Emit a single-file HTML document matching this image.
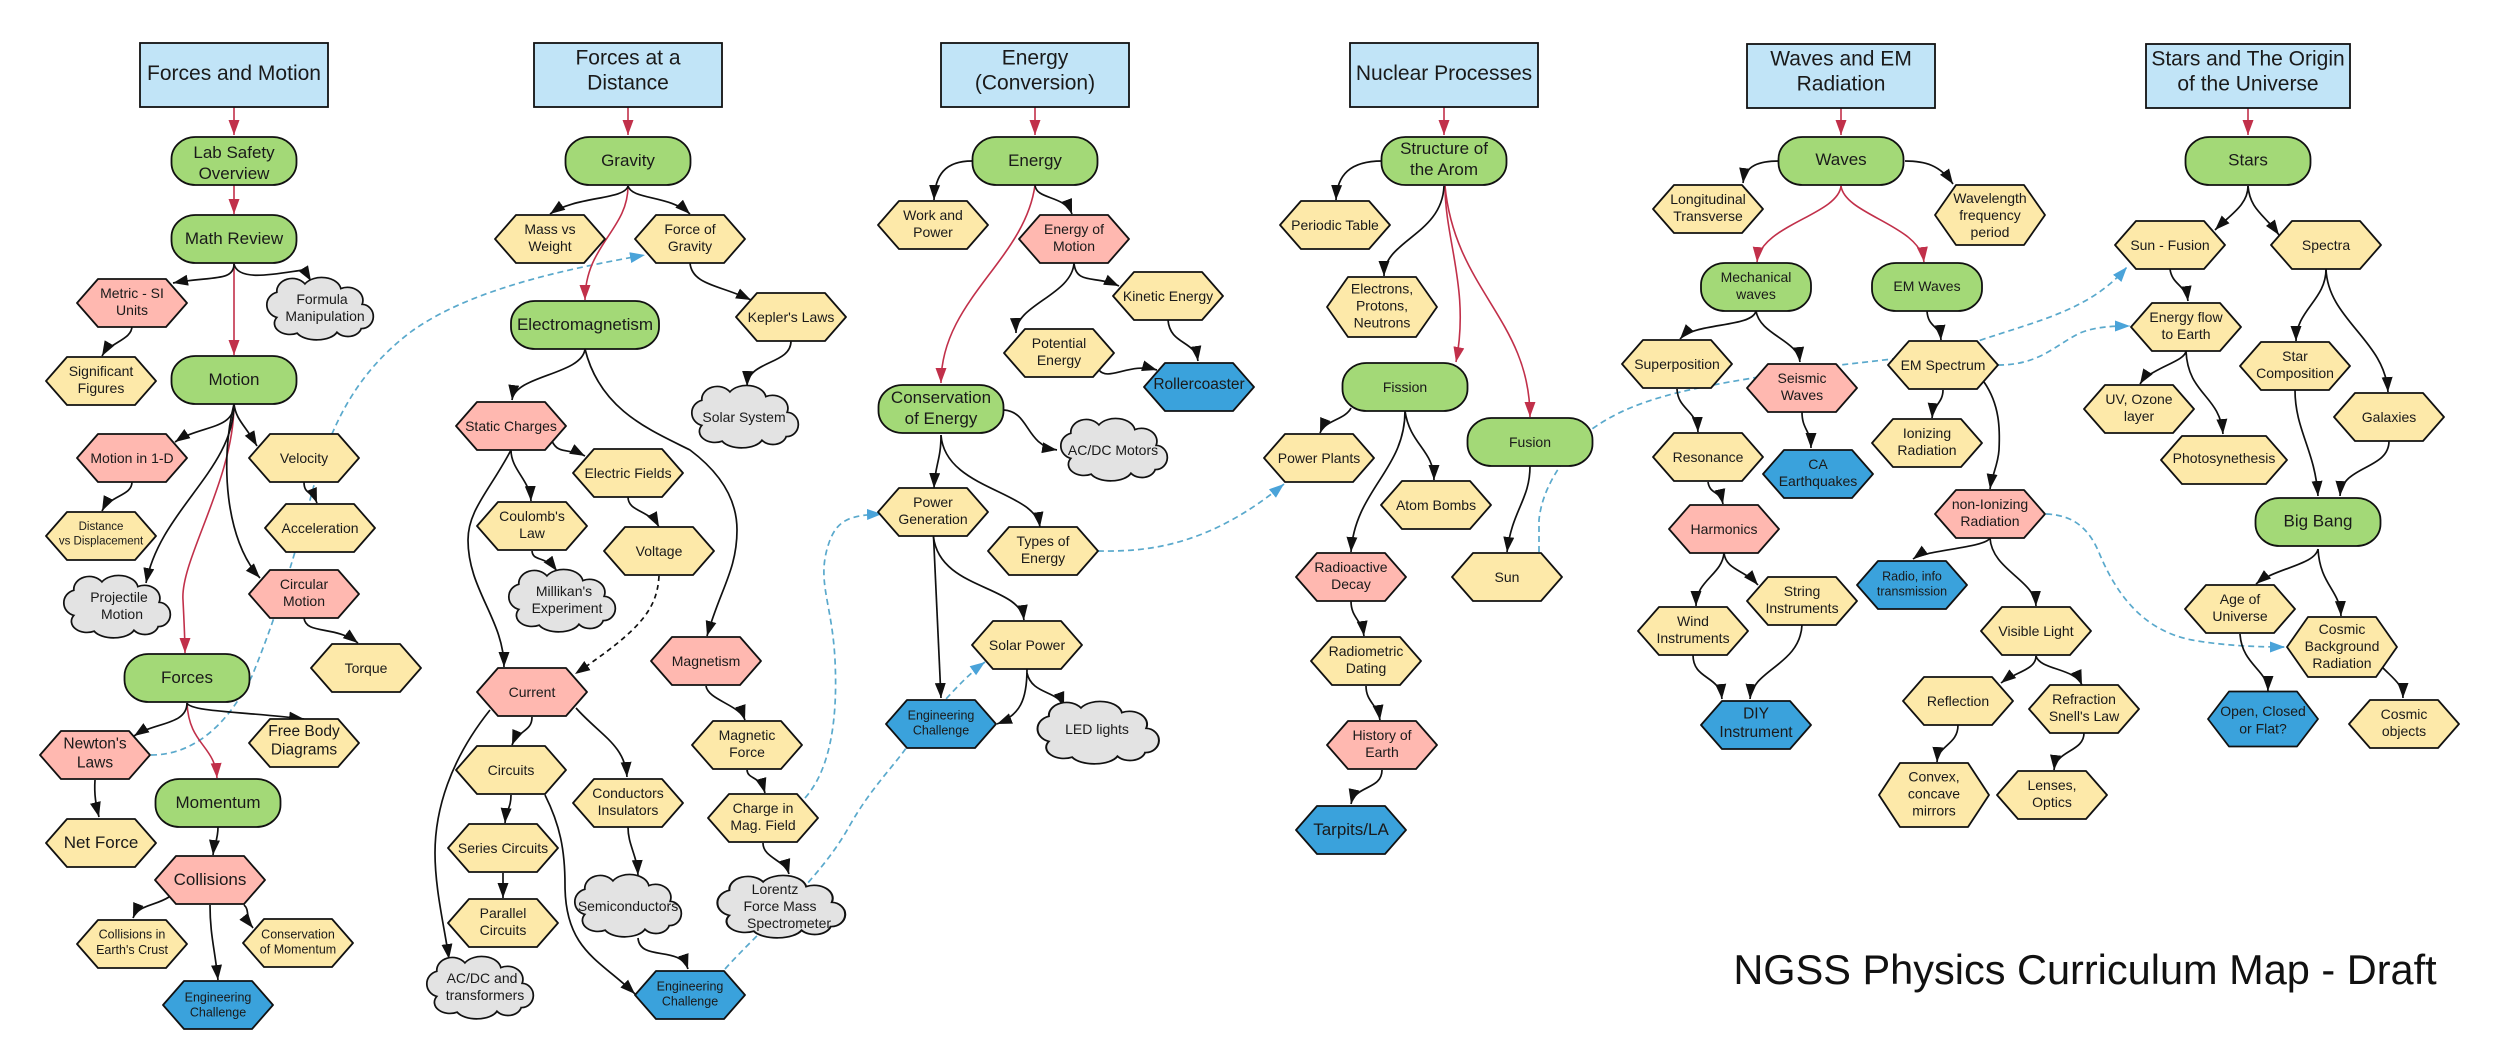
<!DOCTYPE html>
<html><head><meta charset="utf-8"><style>
html,body{margin:0;padding:0;background:#fff}
svg{display:block}
text{font:14px "Liberation Sans",sans-serif;text-anchor:middle;fill:#1a1a1a}
.L text{font-size:17px}.M text{font-size:15.5px}.S text{font-size:12.5px}.X text{font-size:11.5px}.H text{font-size:21px}
.y{fill:#fde9a9}.r{fill:#ffb8b0}.g{fill:#a3d977}.b{fill:#3aa2dc}.c{fill:#e3e3e3}.d{fill:#c1e4f7}
path.k,#k path{fill:none;stroke:#111;stroke-width:1.7;marker-end:url(#ak)}
#r path{fill:none;stroke:#c1304a;stroke-width:1.6;marker-end:url(#ar)}
#u path{fill:none;stroke:#5aa9cc;stroke-width:1.7;stroke-dasharray:6 4;marker-end:url(#au)}
</style></head><body>
<svg width="2500" height="1063" viewBox="0 0 2500 1063" xmlns="http://www.w3.org/2000/svg">
<defs>
<marker id="ak" markerUnits="userSpaceOnUse" markerWidth="17" markerHeight="13" refX="15" refY="6.5" orient="auto"><path d="M0 1L15 6.5L0 12Z" fill="#111"/></marker>
<marker id="ar" markerUnits="userSpaceOnUse" markerWidth="17" markerHeight="13" refX="15" refY="6.5" orient="auto"><path d="M0 1L15 6.5L0 12Z" fill="#c1304a"/></marker>
<marker id="au" markerUnits="userSpaceOnUse" markerWidth="17" markerHeight="13" refX="15" refY="6.5" orient="auto"><path d="M0 1L15 6.5L0 12Z" fill="#4aa3d9"/></marker>
<path id="h" d="M-55 0L-34-24H34L55 0L34 24H-34Z" stroke="#111" stroke-width="1.8" stroke-linejoin="round"/>
<path id="h6" d="M-55 0L-34-30H34L55 0L34 30H-34Z" stroke="#111" stroke-width="1.8" stroke-linejoin="round"/>
<path id="h5" d="M-55 0L-34-27.5H34L55 0L34 27.5H-34Z" stroke="#111" stroke-width="1.8" stroke-linejoin="round"/>
<path id="h7" d="M-55 0L-34-32H34L55 0L34 32H-34Z" stroke="#111" stroke-width="1.8" stroke-linejoin="round"/>
<path id="hw" d="M-63 0L-42-24H42L63 0L42 24H-42Z" stroke="#111" stroke-width="1.8" stroke-linejoin="round"/>
<rect id="p" x="-62.5" y="-24" width="125" height="48" rx="24" ry="22" stroke="#111" stroke-width="1.8"/>
<rect id="pl" x="-74" y="-24" width="148" height="48" rx="24" ry="22" stroke="#111" stroke-width="1.8"/>
<rect id="pm" x="-55" y="-24" width="110" height="48" rx="24" ry="22" stroke="#111" stroke-width="1.8"/>
<rect id="q" x="-94" y="-32" width="188" height="64" stroke="#111" stroke-width="1.8"/>
<rect id="qw" x="-102" y="-32" width="204" height="64" stroke="#111" stroke-width="1.8"/>
<path id="cl" transform="scale(.97,.93) translate(-5.5,0)" d="M-38-18A16 14 0 0 1-9-27A20 14 0 0 1 28-22A16 14 0 0 1 50-5A12 13 0 0 1 49 21A14 11 0 0 1 24 25A22 12 0 0 1-17 26A16 12 0 0 1-38 9A14 14 0 0 1-38-18Z" stroke="#111" stroke-width="1.8"/>
</defs>

<g id="u">
<path d="M151 755C190 755 225 730 252 676C275 620 290 570 309 504C330 420 360 370 412 331C470 290 560 270 645 255"/>
<path d="M725 969C760 930 820 880 850 825C870 790 890 770 904 751C925 722 960 680 985 662"/>
<path d="M805 798C830 770 838 720 835 660C832 600 815 580 830 540C838 520 850 515 882 514"/>
<path d="M1098 551C1150 552 1210 545 1284 484"/>
<path d="M1539 552L1539 520C1542 490 1560 460 1592 429C1640 395 1700 385 1840 365C1900 358 1940 355 1978 341C2040 320 2090 310 2127 267"/>
<path d="M1998 365C2040 365 2055 345 2080 333C2095 327 2110 326 2130 326"/>
<path d="M2046 514C2075 515 2090 530 2100 555C2115 590 2140 630 2192 640C2225 646 2260 647 2285 647"/>
</g>

<path class="k" d="M659 576C657 610 640 630 575 674" style="stroke-dasharray:5 4"/>

<g id="r">
<path d="M234 107V135"/><path d="M234 185V214"/><path d="M234 263V355"/>
<path d="M234 404C234 480 180 560 183 600C184 620 185 640 185 653"/>
<path d="M187 703C189 745 215 745 217 778"/>
<path d="M628 107V135"/><path d="M628 186C628 230 585 245 585 300"/>
<path d="M1035 107V135"/><path d="M1035 185C1025 260 941 300 941 383"/>
<path d="M1444 107V135"/><path d="M1445 186C1445 240 1470 290 1456 362"/><path d="M1445 186C1455 290 1530 320 1530 417"/>
<path d="M1841 108V135"/><path d="M1841 186C1838 215 1760 225 1757 262"/><path d="M1841 186C1845 215 1920 225 1924 262"/>
<path d="M2248 108V135"/>
</g>

<g id="k">
<path d="M234 264C234 282 210 276 173 283"/>
<path d="M234 264C238 282 275 274 303 270C305 272 308 276 311 281"/>
<path d="M132 326C132 340 110 342 102 356"/>
<path d="M234 404C234 430 200 425 175 442"/>
<path d="M234 404C236 420 245 425 257 446"/>
<path d="M132 482C132 496 110 495 102 511"/>
<path d="M234 404C234 470 160 510 146 583"/>
<path d="M234 404C220 460 225 540 260 578"/>
<path d="M304 482C304 495 312 490 317 503"/>
<path d="M304 618C306 635 335 625 358 643"/>
<path d="M187 703C187 725 155 722 134 736"/>
<path d="M187 703C190 712 250 712 304 719"/>
<path d="M95 780C94 795 96 805 99 817"/>
<path d="M218 827C218 840 214 845 213 855"/>
<path d="M169 897C155 906 138 905 133 918"/>
<path d="M244 905C250 910 245 918 253 928"/>
<path d="M210 905C210 935 215 950 218 980"/>

<path d="M628 186C625 200 575 196 550 214"/>
<path d="M628 186C632 200 670 195 690 214"/>
<path d="M690 263C692 285 720 285 751 300"/>
<path d="M791 341C791 365 748 360 747 386"/>
<path d="M585 349C582 375 515 375 512 400"/>
<path d="M585 349C600 410 650 430 690 450C730 480 737 510 737 530C737 570 720 590 707 636"/>
<path d="M552 441C558 455 570 448 585 456"/>
<path d="M511 450C511 470 530 480 531 501"/>
<path d="M511 450C490 490 468 510 468 540C468 590 504 620 504 667"/>
<path d="M628 497C628 512 650 510 659 527"/>
<path d="M532 551C533 562 545 555 557 571"/>
<path d="M706 686C708 700 740 705 745 720"/>
<path d="M747 770C748 780 760 775 765 793"/>
<path d="M763 843C763 858 785 860 789 874"/>
<path d="M628 827C628 845 637 855 638 875"/>
<path d="M638 938C640 962 680 945 688 969"/>
<path d="M532 717C532 732 518 730 512 745"/>
<path d="M576 708C600 735 625 745 627 777"/>
<path d="M490 710C450 760 435 810 435 853C435 890 445 930 449 959"/>
<path d="M511 795C511 808 506 810 505 823"/>
<path d="M503 873V898"/>
<path d="M545 795C560 825 565 850 565 885C565 950 600 960 635 994"/>

<path d="M972 161C945 161 935 175 934 200"/>
<path d="M1035 185C1036 200 1065 195 1072 214"/>
<path d="M1074 263C1076 285 1095 275 1119 286"/>
<path d="M1074 263C1072 295 1015 305 1016 333"/>
<path d="M1168 320C1170 345 1195 340 1198 361"/>
<path d="M1099 370C1108 382 1130 362 1157 370"/>
<path d="M1004 410C1030 412 1025 445 1057 450"/>
<path d="M941 435C941 460 935 465 934 488"/>
<path d="M941 435C945 490 1035 490 1040 527"/>
<path d="M933.5 536L941 698"/>
<path d="M933.5 537C940 590 1020 585 1024 620"/>
<path d="M1027 669C1027 700 1020 715 997 724"/>
<path d="M1027 673C1032 695 1058 690 1064 707"/>

<path d="M1382 161C1350 161 1337 175 1336 200"/>
<path d="M1444 186C1442 235 1384 240 1384 276"/>
<path d="M1351 408C1345 420 1325 420 1320 433"/>
<path d="M1405 411C1410 445 1434 450 1434 480"/>
<path d="M1405 411C1405 470 1355 490 1351 552"/>
<path d="M1530 466C1530 500 1512 510 1507 552"/>
<path d="M1351 601C1351 618 1362 620 1364 636"/>
<path d="M1366 686C1366 702 1378 705 1380 720"/>
<path d="M1382 770C1382 790 1355 785 1351 804"/>

<path d="M1779 161C1760 161 1745 165 1743 183"/>
<path d="M1905 161C1925 161 1940 165 1953 184"/>
<path d="M1756 311C1752 328 1695 322 1680 339"/>
<path d="M1756 311C1760 335 1798 340 1800 362"/>
<path d="M1927 311C1928 328 1940 325 1941 340"/>
<path d="M1677 389C1678 410 1697 410 1698 432"/>
<path d="M1708 482C1710 495 1720 490 1723 504"/>
<path d="M1802 412C1802 430 1811 430 1811 448"/>
<path d="M1943 390C1943 403 1933 405 1932 418"/>
<path d="M1984 382C2000 405 2000 430 1999 450C1998 465 1992 475 1990 489"/>
<path d="M1724 553C1722 575 1696 580 1696 606"/>
<path d="M1724 553C1726 570 1745 570 1758 585"/>
<path d="M1693 655C1693 680 1720 675 1722 699"/>
<path d="M1802 625C1800 665 1752 670 1750 699"/>
<path d="M1990 538C1985 548 1925 550 1913 559"/>
<path d="M1990 538C1992 570 2035 580 2036 606"/>
<path d="M2036 656C2036 670 2015 672 2001 683"/>
<path d="M2036 656C2040 670 2075 668 2082 685"/>
<path d="M1958 725C1958 745 1938 745 1937 762"/>
<path d="M2084 733C2084 752 2056 750 2054 770"/>

<path d="M2248 186C2248 205 2230 215 2215 230"/>
<path d="M2248 186C2250 210 2265 215 2279 235"/>
<path d="M2170 269C2172 285 2186 285 2188 301"/>
<path d="M2326 269C2326 300 2296 310 2296 341"/>
<path d="M2326 269C2328 320 2385 340 2388 392"/>
<path d="M2186 351C2185 362 2150 368 2140 384"/>
<path d="M2186 351C2188 395 2220 395 2223 434"/>
<path d="M2295 390C2295 430 2315 450 2318 496"/>
<path d="M2389 441C2389 470 2342 465 2340 496"/>
<path d="M2318 549C2315 565 2275 568 2256 584"/>
<path d="M2318 549C2320 585 2340 590 2341 616"/>
<path d="M2240 634C2242 665 2268 670 2268 691"/>
<path d="M2383 668C2395 680 2403 685 2403 698"/>
</g>

<!-- headers -->
<g class="H" transform="translate(234,75)"><use href="#q" class="d"/><text y="5">Forces and Motion</text></g>
<g class="H" transform="translate(628,75)"><use href="#q" class="d"/><text y="-10.5">Forces at a</text><text y="14.5">Distance</text></g>
<g class="H" transform="translate(1035,75)"><use href="#q" class="d"/><text y="-10.5">Energy</text><text y="14.5">(Conversion)</text></g>
<g class="H" transform="translate(1444,75)"><use href="#q" class="d"/><text y="5">Nuclear Processes</text></g>
<g class="H" transform="translate(1841,76)"><use href="#q" class="d"/><text y="-10.5">Waves and EM</text><text y="14.5">Radiation</text></g>
<g class="H" transform="translate(2248,76)"><use href="#qw" class="d"/><text y="-10.5">Stars and The Origin</text><text y="14.5">of the Universe</text></g>

<!-- column 1 -->
<g class="L" transform="translate(234,161)"><use href="#p" class="g"/><text y="-3">Lab Safety</text><text y="18">Overview</text></g>
<g class="L" transform="translate(234,239)"><use href="#p" class="g"/><text y="5">Math Review</text></g>
<g transform="translate(132,303)"><use href="#h" class="r"/><text y="-5">Metric - SI</text><text y="12">Units</text></g>
<g transform="translate(319,309)"><use href="#cl" class="c"/><text x="3" y="-5">Formula</text><text x="6" y="12">Manipulation</text></g>
<g transform="translate(101,381)"><use href="#h" class="y"/><text y="-5">Significant</text><text y="12">Figures</text></g>
<g class="L" transform="translate(234,380)"><use href="#p" class="g"/><text y="5">Motion</text></g>
<g transform="translate(132,458)"><use href="#h" class="r"/><text y="5">Motion in 1-D</text></g>
<g transform="translate(304,458)"><use href="#h" class="y"/><text y="5">Velocity</text></g>
<g class="X" transform="translate(101,536)"><use href="#h" class="y"/><text y="-6">Distance</text><text y="8.5">vs Displacement</text></g>
<g transform="translate(320,528)"><use href="#h" class="y"/><text y="5">Acceleration</text></g>
<g transform="translate(116,607)"><use href="#cl" class="c"/><text x="3" y="-5">Projectile</text><text x="6" y="12">Motion</text></g>
<g transform="translate(304,594)"><use href="#h" class="r"/><text y="-5">Circular</text><text y="12">Motion</text></g>
<g class="L" transform="translate(187,678)"><use href="#p" class="g"/><text y="5">Forces</text></g>
<g transform="translate(366,668)"><use href="#h" class="y"/><text y="5">Torque</text></g>
<g class="M" transform="translate(95,755)"><use href="#h" class="r"/><text y="-6.5">Newton's</text><text y="12.5">Laws</text></g>
<g class="M" transform="translate(304,743)"><use href="#h" class="y"/><text y="-7">Free Body</text><text y="11.5">Diagrams</text></g>
<g class="L" transform="translate(218,803)"><use href="#p" class="g"/><text y="5">Momentum</text></g>
<g class="L" transform="translate(101,843)"><use href="#h" class="y"/><text y="5">Net Force</text></g>
<g class="L" transform="translate(210,880)"><use href="#h" class="r"/><text y="5">Collisions</text></g>
<g class="S" transform="translate(132,944)"><use href="#h" class="y"/><text y="-5.5">Collisions in</text><text y="10">Earth's Crust</text></g>
<g class="S" transform="translate(298,943)"><use href="#h" class="y"/><text y="-4.5">Conservation</text><text y="10.5">of Momentum</text></g>
<g class="S" transform="translate(218,1005)"><use href="#h" class="b"/><text y="-3.5">Engineering</text><text y="11.5">Challenge</text></g>

<!-- column 2 -->
<g class="L" transform="translate(628,161)"><use href="#p" class="g"/><text y="5">Gravity</text></g>
<g transform="translate(550,239)"><use href="#h" class="y"/><text y="-5">Mass vs</text><text y="12">Weight</text></g>
<g transform="translate(690,239)"><use href="#h" class="y"/><text y="-5">Force of</text><text y="12">Gravity</text></g>
<g class="L" transform="translate(585,325)"><use href="#pl" class="g"/><text y="5">Electromagnetism</text></g>
<g transform="translate(791,317)"><use href="#h" class="y"/><text y="5">Kepler's Laws</text></g>
<g transform="translate(744,417)"><use href="#cl" class="c"/><text y="5">Solar System</text></g>
<g transform="translate(511,426)"><use href="#h" class="r"/><text y="5">Static Charges</text></g>
<g transform="translate(628,473)"><use href="#h" class="y"/><text y="5">Electric Fields</text></g>
<g transform="translate(532,526)"><use href="#h" class="y"/><text y="-5">Coulomb's</text><text y="12">Law</text></g>
<g transform="translate(659,551)"><use href="#h" class="y"/><text y="5">Voltage</text></g>
<g transform="translate(561,601)"><use href="#cl" class="c"/><text x="3" y="-5">Millikan's</text><text x="6" y="12">Experiment</text></g>
<g transform="translate(532,692)"><use href="#h" class="r"/><text y="5">Current</text></g>
<g transform="translate(706,661)"><use href="#h" class="r"/><text y="5">Magnetism</text></g>
<g transform="translate(747,745)"><use href="#h" class="y"/><text y="-5">Magnetic</text><text y="12">Force</text></g>
<g transform="translate(511,770)"><use href="#h" class="y"/><text y="5">Circuits</text></g>
<g transform="translate(628,803)"><use href="#h" class="y"/><text y="-5">Conductors</text><text y="12">Insulators</text></g>
<g transform="translate(763,818)"><use href="#h" class="y"/><text y="-5">Charge in</text><text y="12">Mag. Field</text></g>
<g transform="translate(503,848)"><use href="#h" class="y"/><text y="5">Series Circuits</text></g>
<g transform="translate(503,923)"><use href="#h" class="y"/><text y="-5">Parallel</text><text y="12">Circuits</text></g>
<g transform="translate(627,906)"><use href="#cl" class="c"/><text x="1" y="5">Semiconductors</text></g>
<g transform="translate(780,907)"><use href="#cl" class="c" transform="scale(1.2,1)"/><text x="-5" y="-13">Lorentz</text><text y="4">Force Mass</text><text x="9" y="21">Spectrometer</text></g>
<g transform="translate(479,988)"><use href="#cl" class="c"/><text x="3" y="-5">AC/DC and</text><text x="6" y="12">transformers</text></g>
<g class="S" transform="translate(690,995)"><use href="#h" class="b"/><text y="-4.5">Engineering</text><text y="10.5">Challenge</text></g>

<!-- column 3 -->
<g class="L" transform="translate(1035,161)"><use href="#p" class="g"/><text y="5">Energy</text></g>
<g transform="translate(933,225)"><use href="#h" class="y"/><text y="-5">Work and</text><text y="12">Power</text></g>
<g transform="translate(1074,239)"><use href="#h" class="r"/><text y="-5">Energy of</text><text y="12">Motion</text></g>
<g transform="translate(1168,296)"><use href="#h" class="y"/><text y="5">Kinetic Energy</text></g>
<g transform="translate(1059,353)"><use href="#h" class="y"/><text y="-5">Potential</text><text y="12">Energy</text></g>
<g class="M" transform="translate(1199,387)"><use href="#h" class="b"/><text y="2">Rollercoaster</text></g>
<g class="L" transform="translate(941,409)"><use href="#p" class="g"/><text y="-6">Conservation</text><text y="15">of Energy</text></g>
<g transform="translate(1113,450)"><use href="#cl" class="c"/><text y="5">AC/DC Motors</text></g>
<g transform="translate(933,512)"><use href="#h" class="y"/><text y="-5">Power</text><text y="12">Generation</text></g>
<g transform="translate(1043,551)"><use href="#h" class="y"/><text y="-5">Types of</text><text y="12">Energy</text></g>
<g transform="translate(1027,645)"><use href="#h" class="y"/><text y="5">Solar Power</text></g>
<g class="S" transform="translate(941,724)"><use href="#h" class="b"/><text y="-4.5">Engineering</text><text y="10.5">Challenge</text></g>
<g transform="translate(1097,733)"><use href="#cl" class="c" transform="scale(1.14,1)"/><text y="1">LED lights</text></g>

<!-- column 4 -->
<g class="L" transform="translate(1444,161)"><use href="#p" class="g"/><text y="-7">Structure of</text><text y="14">the Arom</text></g>
<g transform="translate(1335,225)"><use href="#h" class="y"/><text y="5">Periodic Table</text></g>
<g transform="translate(1382,307)"><use href="#h6" class="y"/><text y="-13.5">Electrons,</text><text y="3.5">Protons,</text><text y="20.5">Neutrons</text></g>
<g transform="translate(1405,387)"><use href="#p" class="g"/><text y="5">Fission</text></g>
<g transform="translate(1530,442)"><use href="#p" class="g"/><text y="5">Fusion</text></g>
<g transform="translate(1319,458)"><use href="#h" class="y"/><text y="5">Power Plants</text></g>
<g transform="translate(1436,505)"><use href="#h" class="y"/><text y="5">Atom Bombs</text></g>
<g transform="translate(1351,577)"><use href="#h" class="r"/><text y="-5">Radioactive</text><text y="12">Decay</text></g>
<g transform="translate(1507,577)"><use href="#h" class="y"/><text y="5">Sun</text></g>
<g transform="translate(1366,661)"><use href="#h" class="y"/><text y="-5">Radiometric</text><text y="12">Dating</text></g>
<g transform="translate(1382,745)"><use href="#h" class="r"/><text y="-5">History of</text><text y="12">Earth</text></g>
<g class="L" transform="translate(1351,830)"><use href="#h" class="b"/><text y="5">Tarpits/LA</text></g>

<!-- column 5 -->
<g class="L" transform="translate(1841,161)"><use href="#p" class="g"/><text y="4">Waves</text></g>
<g transform="translate(1708,209)"><use href="#h" class="y"/><text y="-5">Longitudinal</text><text y="12">Transverse</text></g>
<g transform="translate(1990,215)"><use href="#h6" class="y"/><text y="-12">Wavelength</text><text y="5">frequency</text><text y="22">period</text></g>
<g transform="translate(1756,287)"><use href="#pm" class="g"/><text y="-5">Mechanical</text><text y="12">waves</text></g>
<g transform="translate(1927,287)"><use href="#pm" class="g"/><text y="4">EM Waves</text></g>
<g transform="translate(1677,364)"><use href="#h" class="y"/><text y="5">Superposition</text></g>
<g transform="translate(1802,388)"><use href="#h" class="r"/><text y="-5">Seismic</text><text y="12">Waves</text></g>
<g transform="translate(1943,365)"><use href="#h" class="y"/><text y="5">EM Spectrum</text></g>
<g transform="translate(1708,457)"><use href="#h" class="y"/><text y="5">Resonance</text></g>
<g transform="translate(1818,474)"><use href="#h" class="b"/><text y="-5">CA</text><text y="12">Earthquakes</text></g>
<g transform="translate(1927,443)"><use href="#h" class="y"/><text y="-5">Ionizing</text><text y="12">Radiation</text></g>
<g transform="translate(1724,529)"><use href="#h" class="r"/><text y="5">Harmonics</text></g>
<g transform="translate(1990,514)"><use href="#h" class="r"/><text y="-5">non-Ionizing</text><text y="12">Radiation</text></g>
<g transform="translate(1693,631)"><use href="#h" class="y"/><text y="-5">Wind</text><text y="12">Instruments</text></g>
<g transform="translate(1802,601)"><use href="#h" class="y"/><text y="-5">String</text><text y="12">Instruments</text></g>
<g class="M" transform="translate(1756,725)"><use href="#h" class="b"/><text y="-6.5">DIY</text><text y="12">Instrument</text></g>
<g class="S" transform="translate(1912,585)"><use href="#h" class="b"/><text y="-4.5">Radio, info</text><text y="10.5">transmission</text></g>
<g transform="translate(2036,631)"><use href="#h" class="y"/><text y="5">Visible Light</text></g>
<g transform="translate(1958,701)"><use href="#h" class="y"/><text y="5">Reflection</text></g>
<g transform="translate(2084,709)"><use href="#h" class="y"/><text y="-5">Refraction</text><text y="12">Snell's Law</text></g>
<g transform="translate(1934,795)"><use href="#h7" class="y"/><text y="-13.5">Convex,</text><text y="3.5">concave</text><text y="20.5">mirrors</text></g>
<g transform="translate(2052,795)"><use href="#h" class="y"/><text y="-5">Lenses,</text><text y="12">Optics</text></g>

<!-- column 6 -->
<g class="L" transform="translate(2248,161)"><use href="#p" class="g"/><text y="4.5">Stars</text></g>
<g transform="translate(2170,245)"><use href="#h" class="y"/><text y="5">Sun - Fusion</text></g>
<g transform="translate(2326,245)"><use href="#h" class="y"/><text y="5">Spectra</text></g>
<g transform="translate(2186,327)"><use href="#h" class="y"/><text y="-5">Energy flow</text><text y="12">to Earth</text></g>
<g transform="translate(2295,366)"><use href="#h" class="y"/><text y="-5">Star</text><text y="12">Composition</text></g>
<g transform="translate(2139,409)"><use href="#h" class="y"/><text y="-5">UV, Ozone</text><text y="12">layer</text></g>
<g transform="translate(2389,417)"><use href="#h" class="y"/><text y="5">Galaxies</text></g>
<g transform="translate(2224,460)"><use href="#hw" class="y"/><text y="3">Photosynethesis</text></g>
<g class="L" transform="translate(2318,522)"><use href="#p" class="g"/><text y="4.5">Big Bang</text></g>
<g transform="translate(2240,609)"><use href="#h" class="y"/><text y="-5">Age of</text><text y="12">Universe</text></g>
<g transform="translate(2342,647)"><use href="#h6" class="y"/><text y="-13">Cosmic</text><text y="4">Background</text><text y="21">Radiation</text></g>
<g transform="translate(2263,719)"><use href="#h5" class="b"/><text y="-3">Open, Closed</text><text y="14.5">or Flat?</text></g>
<g transform="translate(2404,724)"><use href="#h" class="y"/><text y="-5">Cosmic</text><text y="12">objects</text></g>

<text x="2085" y="984" style="font-size:41.5px;fill:#111">NGSS Physics Curriculum Map - Draft</text>
</svg>
</body></html>
